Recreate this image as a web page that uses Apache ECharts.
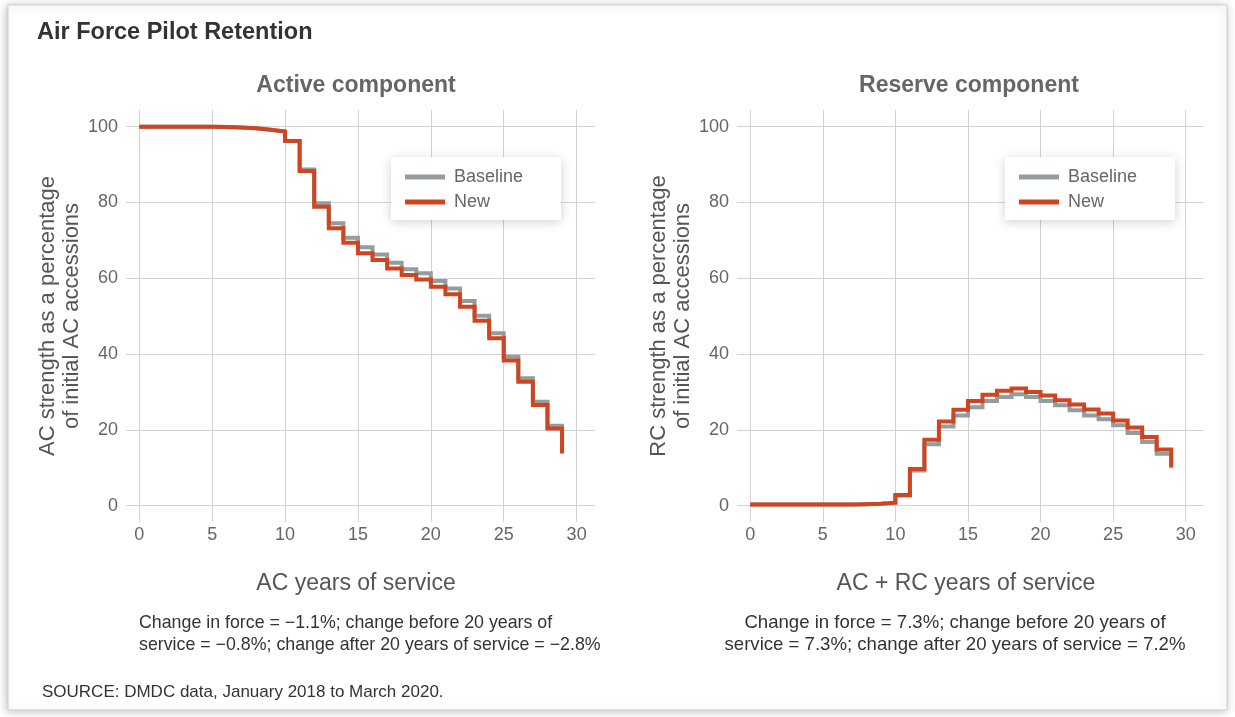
<!DOCTYPE html>
<html>
<head>
<meta charset="utf-8">
<script src="https://cdn.jsdelivr.net/npm/echarts@6/dist/echarts.min.js"></script>
<style>
html,body{margin:0;padding:0;background:#fff;}
#chart{width:1235px;height:717px;}
</style>
</head>
<body>
<div id="chart"></div>
<script>
// ---- Data ----
const years = [0,1,2,3,4,5,6,7,8,9,10,11,12,13,14,15,16,17,18,19,20,21,22,23,24,25,26,27,28,29];

const acBaseline = [100,100,100,100,100,99.9,99.8,99.6,99.2,98.7,96.2,88.7,79.8,74.5,70.7,68.2,66.3,64.1,62.4,61.3,59.3,57.3,54.0,50.1,45.5,39.3,33.6,27.4,21.1,14.2];
const acNew      = [100,100,100,100,100,99.9,99.8,99.6,99.2,98.7,96.2,88.3,78.9,73.2,69.4,66.6,64.8,62.6,60.9,59.7,57.8,55.8,52.5,48.8,44.2,38.3,32.7,26.6,20.4,13.8];

const rcBaseline = [0.3,0.3,0.3,0.3,0.3,0.3,0.3,0.4,0.5,0.8,2.7,9.3,16.2,20.9,23.8,26.0,27.6,28.7,29.4,28.7,27.6,26.5,25.2,23.8,22.8,21.2,19.2,16.8,13.7,9.9];
const rcNew      = [0.3,0.3,0.3,0.3,0.3,0.3,0.3,0.4,0.5,0.8,2.8,9.7,17.4,22.2,25.3,27.6,29.3,30.3,30.9,30.0,29.1,27.8,26.7,25.4,24.3,22.5,20.6,18.1,14.8,10.3];

const xTicks = [0,5,10,15,20,25,30];
const yTicks = [0,20,40,60,80,100];

const seriesNames = ['Baseline','New'];
const titleText = 'Air Force Pilot Retention';
const panelTitles = ['Active component','Reserve component'];
const xNames = ['AC years of service','AC + RC years of service'];
const yNames = ['AC strength as a percentage\nof initial AC accessions','RC strength as a percentage\nof initial AC accessions'];
const notes = [
  'Change in force = \u22121.1%; change before 20 years of\nservice = \u22120.8%; change after 20 years of service = \u22122.8%',
  'Change in force = 7.3%; change before 20 years of\nservice = 7.3%; change after 20 years of service = 7.2%'
];
const sourceText = 'SOURCE: DMDC data, January 2018 to March 2020.';

// ---- Styles ----
const RED = '#cf4521';
const GRAY = '#949c9d';
const FONT = '"Liberation Sans", Arial, Helvetica, sans-serif';
const GRID_COLOR = '#d3d3d3';

function pairs(xs, ys){ return xs.map((x,i)=>[x, ys[i]]); }

function xAxisFor(idx){
  return {
    type:'value', gridIndex: idx, min: -0.91, max: 31.26,
    name: xNames[idx], nameLocation:'middle', nameGap: 50,
    nameTextStyle:{fontFamily:FONT, fontSize:23, color:'#555', padding:[0,9,0,0]},
    axisLine:{show:false},
    axisTick:{show:false, customValues: xTicks},
    axisLabel:{customValues: xTicks, fontFamily:FONT, fontSize:18, color:'#666', margin:4},
    splitLine:{show:true, lineStyle:{color:GRID_COLOR, width:1}}
  };
}
function yAxisFor(idx){
  return {
    type:'value', gridIndex: idx, min: -4.3, max: 104.4,
    name: yNames[idx], nameLocation:'middle', nameGap: 37,
    nameTextStyle:{fontFamily:FONT, fontSize:22, color:'#555', lineHeight:24},
    axisLine:{show:false},
    axisTick:{show:false, customValues: yTicks},
    axisLabel:{customValues: yTicks, fontFamily:FONT, fontSize:18, color:'#666', margin:8},
    splitLine:{show:true, lineStyle:{color:GRID_COLOR, width:1}}
  };
}
function lineSeries(name, data, idx, color, z){
  return {
    name: name, type:'line', step:'end', xAxisIndex: idx, yAxisIndex: idx,
    data: data, showSymbol:false, symbol:'none', z: z,
    lineStyle:{color: color, width:4, cap:'butt', join:'miter'},
    itemStyle:{color: color},
    animation:false
  };
}
function legendFor(left){
  return {
    data: seriesNames, orient:'vertical', left: left, top: 157,
    icon:'rect', itemWidth:40, itemHeight:5, itemGap:7,
    padding:[11, 38, 9, 14],
    backgroundColor:'#fff',
    shadowColor:'rgba(0,0,0,0.18)', shadowBlur:10, shadowOffsetX:0, shadowOffsetY:2,
    textStyle:{fontFamily:FONT, fontSize:18, color:'#666', padding:[0,0,0,4]}
  };
}

const chart = echarts.init(document.getElementById('chart'), null, {renderer:'canvas'});
chart.setOption({
  backgroundColor:'#fff',
  animation:false,
  title:[
    {text:titleText, left:37, top:21, padding:0, textStyle:{fontFamily:FONT, fontSize:23.5, fontWeight:'bold', color:'#333'}},
    {text:panelTitles[0], left:356, top:74, padding:0, textAlign:'center', textStyle:{fontFamily:FONT, fontSize:23, fontWeight:'bold', color:'#666'}},
    {text:panelTitles[1], left:969, top:74, padding:0, textAlign:'center', textStyle:{fontFamily:FONT, fontSize:23, fontWeight:'bold', color:'#666'}}
  ],
  legend:[legendFor(391), legendFor(1005)],
  grid:[
    {left:126, top:110, width:469, height:412},
    {left:737, top:110, width:467, height:412}
  ],
  xAxis:[xAxisFor(0), xAxisFor(1)],
  yAxis:[yAxisFor(0), yAxisFor(1)],
  series:[
    lineSeries(seriesNames[0], pairs(years, acBaseline), 0, GRAY, 2),
    lineSeries(seriesNames[1], pairs(years, acNew), 0, RED, 3),
    lineSeries(seriesNames[0], pairs(years, rcBaseline), 1, GRAY, 2),
    lineSeries(seriesNames[1], pairs(years, rcNew), 1, RED, 3)
  ],
  graphic:[
    {type:'rect', z:-10, silent:true, shape:{x:8, y:5, width:1219, height:705},
     style:{fill:'#fff', stroke:'#cfcfcf', lineWidth:1, shadowColor:'rgba(0,0,0,0.25)', shadowBlur:8, shadowOffsetX:-1, shadowOffsetY:1}},
    {type:'text', silent:true, x:139, y:612,
     style:{text:notes[0], align:'left', verticalAlign:'top', fontFamily:FONT, fontSize:17.8, lineHeight:22, fill:'#333'}},
    {type:'text', silent:true, x:955, y:612,
     style:{text:notes[1], align:'center', verticalAlign:'top', fontFamily:FONT, fontSize:18.6, lineHeight:22, fill:'#333'}},
    {type:'text', silent:true, x:42, y:684,
     style:{text:sourceText, align:'left', verticalAlign:'top', fontFamily:FONT, fontSize:17, fill:'#333'}}
  ]
});
</script>
</body>
</html>
